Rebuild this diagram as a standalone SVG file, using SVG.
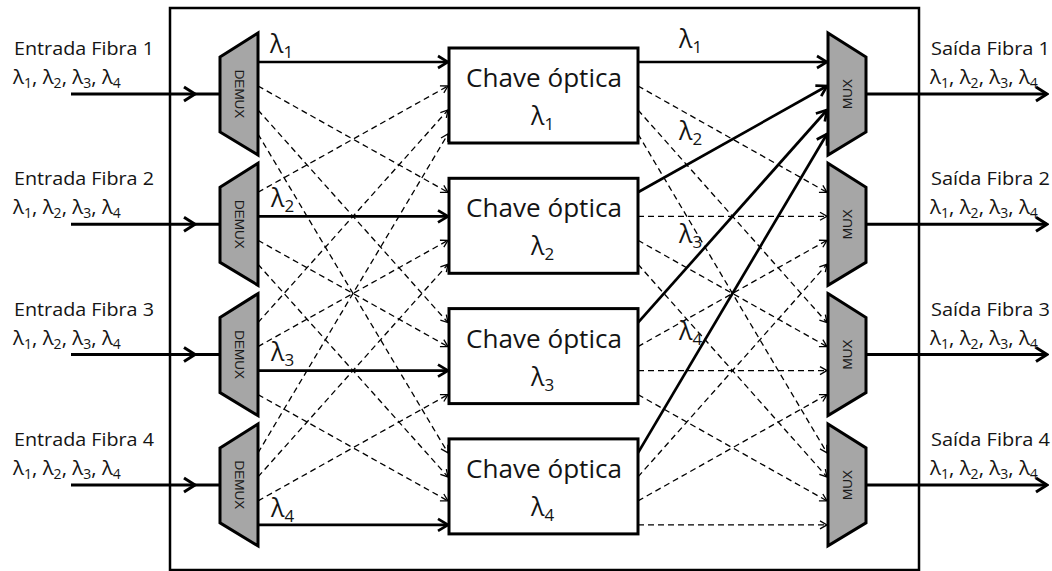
<svg xmlns="http://www.w3.org/2000/svg" width="1052" height="571" viewBox="0 0 1052 571">
<style>
  .txt { font-family: "Open Sans", "Liberation Sans", sans-serif; fill: #141414; }
  .lbl { font-size: 18px; }
  .row { font-size: 20.5px; }
  .row .sub { font-size: 14px; }
  .big { font-size: 25px; }
  .big .sub { font-size: 17px; }
  .lam { font-size: 25px; }
  .lam .sub { font-size: 17px; }
  .dev { fill: #a6a6a6; stroke: #000; stroke-width: 3; stroke-linejoin: miter; }
  .devtxt { font-family: "Liberation Sans", sans-serif; font-size: 13.5px; fill: #1a1a1a; }
  .sw { fill: #fff; stroke: #000; stroke-width: 3; }
  .s { stroke: #000; stroke-width: 2.7; fill: none; marker-end: url(#ah); }
  .d { stroke: #000; stroke-width: 1.3; fill: none; stroke-dasharray: 6 4; marker-end: url(#ahs); }
  .fib { stroke: #000; stroke-width: 3; fill: none; }
</style>
<defs>
  <marker id="ah" viewBox="-13 -8 15 16" refX="0" refY="0" markerWidth="15" markerHeight="16" markerUnits="userSpaceOnUse" orient="auto">
    <path d="M-10,-6 L0,0 L-10,6" fill="none" stroke="#000" stroke-width="2.7"/>
  </marker>
  <marker id="ahs" viewBox="-10 -6 12 12" refX="0" refY="0" markerWidth="12" markerHeight="12" markerUnits="userSpaceOnUse" orient="auto">
    <path d="M-7,-4 L0,0 L-7,4" fill="none" stroke="#000" stroke-width="1.3"/>
  </marker>
  <marker id="ahf" viewBox="-14 -9 16 18" refX="0" refY="0" markerWidth="16" markerHeight="18" markerUnits="userSpaceOnUse" orient="auto">
    <path d="M-11,-7 L0,0 L-11,7" fill="none" stroke="#000" stroke-width="3"/>
  </marker>
</defs>

<g id="frame">
  <rect x="170" y="8" width="749" height="562" fill="none" stroke="#000" stroke-width="2.5"/>
</g>

<g id="connectors">
  <!-- input fibres -->
  <path class="fib" d="M71,94 H195 H220" marker-mid="url(#ahf)"/>
  <path class="fib" d="M71,224.3 H195 H220" marker-mid="url(#ahf)"/>
  <path class="fib" d="M71,354.6 H195 H220" marker-mid="url(#ahf)"/>
  <path class="fib" d="M71,484.9 H195 H220" marker-mid="url(#ahf)"/>
  <!-- output fibres -->
  <path class="fib" d="M866,94 H1047" marker-end="url(#ahf)"/>
  <path class="fib" d="M866,224.3 H1047" marker-end="url(#ahf)"/>
  <path class="fib" d="M866,354.6 H1047" marker-end="url(#ahf)"/>
  <path class="fib" d="M866,484.9 H1047" marker-end="url(#ahf)"/>

  <!-- demux -> switches -->
  <line class="s" x1="258" y1="62" x2="448" y2="62"/>
  <line class="d" x1="258" y1="86" x2="448" y2="192.3"/>
  <line class="d" x1="258" y1="110" x2="448" y2="322.6"/>
  <line class="d" x1="258" y1="134" x2="448" y2="452.9"/>

  <line class="d" x1="258" y1="192.3" x2="448" y2="86"/>
  <line class="s" x1="258" y1="216.3" x2="448" y2="216.3"/>
  <line class="d" x1="258" y1="240.3" x2="448" y2="346.6"/>
  <line class="d" x1="258" y1="264.3" x2="448" y2="476.9"/>

  <line class="d" x1="258" y1="322.6" x2="448" y2="110"/>
  <line class="d" x1="258" y1="346.6" x2="448" y2="240.3"/>
  <line class="s" x1="258" y1="370.6" x2="448" y2="370.6"/>
  <line class="d" x1="258" y1="394.6" x2="448" y2="500.9"/>

  <line class="d" x1="258" y1="452.9" x2="448" y2="134"/>
  <line class="d" x1="258" y1="476.9" x2="448" y2="264.3"/>
  <line class="d" x1="258" y1="500.9" x2="448" y2="394.6"/>
  <line class="s" x1="258" y1="524.9" x2="448" y2="524.9"/>

  <!-- switches -> mux -->
  <line class="s" x1="638" y1="62" x2="827" y2="62"/>
  <line class="d" x1="638" y1="86" x2="827" y2="192.3"/>
  <line class="d" x1="638" y1="110" x2="827" y2="322.6"/>
  <line class="d" x1="638" y1="134" x2="827" y2="452.9"/>

  <line class="s" x1="638" y1="192.3" x2="827" y2="86"/>
  <line class="d" x1="638" y1="216.3" x2="827" y2="216.3"/>
  <line class="d" x1="638" y1="240.3" x2="827" y2="346.6"/>
  <line class="d" x1="638" y1="264.3" x2="827" y2="476.9"/>

  <line class="s" x1="638" y1="322.6" x2="827" y2="110"/>
  <line class="d" x1="638" y1="346.6" x2="827" y2="240.3"/>
  <line class="d" x1="638" y1="370.6" x2="827" y2="370.6"/>
  <line class="d" x1="638" y1="394.6" x2="827" y2="500.9"/>

  <line class="s" x1="638" y1="452.9" x2="827" y2="134"/>
  <line class="d" x1="638" y1="476.9" x2="827" y2="264.3"/>
  <line class="d" x1="638" y1="500.9" x2="827" y2="394.6"/>
  <line class="d" x1="638" y1="524.9" x2="827" y2="524.9"/>
</g>

<g id="connector-labels" class="txt lam">
  <text x="270" y="53">λ<tspan class="sub" dy="5">1</tspan></text>
  <text x="271" y="207">λ<tspan class="sub" dy="5">2</tspan></text>
  <text x="271" y="361">λ<tspan class="sub" dy="5">3</tspan></text>
  <text x="271" y="517">λ<tspan class="sub" dy="5">4</tspan></text>
  <text x="679" y="48">λ<tspan class="sub" dy="5">1</tspan></text>
  <text x="679" y="140">λ<tspan class="sub" dy="5">2</tspan></text>
  <text x="679" y="243">λ<tspan class="sub" dy="5">3</tspan></text>
  <text x="679" y="340">λ<tspan class="sub" dy="5">4</tspan></text>
</g>

<g id="input-1" class="txt">
  <text class="lbl" x="14" y="55" textLength="140" lengthAdjust="spacingAndGlyphs">Entrada Fibra 1</text>
  <text class="row" x="13" y="84">λ<tspan class="sub" dy="4">1</tspan><tspan dy="-4">, λ</tspan><tspan class="sub" dy="4">2</tspan><tspan dy="-4">, λ</tspan><tspan class="sub" dy="4">3</tspan><tspan dy="-4">, λ</tspan><tspan class="sub" dy="4">4</tspan></text>
</g>
<g id="input-2" class="txt">
  <text class="lbl" x="14" y="185.3" textLength="140" lengthAdjust="spacingAndGlyphs">Entrada Fibra 2</text>
  <text class="row" x="13" y="214.3">λ<tspan class="sub" dy="4">1</tspan><tspan dy="-4">, λ</tspan><tspan class="sub" dy="4">2</tspan><tspan dy="-4">, λ</tspan><tspan class="sub" dy="4">3</tspan><tspan dy="-4">, λ</tspan><tspan class="sub" dy="4">4</tspan></text>
</g>
<g id="input-3" class="txt">
  <text class="lbl" x="14" y="315.6" textLength="140" lengthAdjust="spacingAndGlyphs">Entrada Fibra 3</text>
  <text class="row" x="13" y="344.6">λ<tspan class="sub" dy="4">1</tspan><tspan dy="-4">, λ</tspan><tspan class="sub" dy="4">2</tspan><tspan dy="-4">, λ</tspan><tspan class="sub" dy="4">3</tspan><tspan dy="-4">, λ</tspan><tspan class="sub" dy="4">4</tspan></text>
</g>
<g id="input-4" class="txt">
  <text class="lbl" x="14" y="445.9" textLength="140" lengthAdjust="spacingAndGlyphs">Entrada Fibra 4</text>
  <text class="row" x="13" y="474.9">λ<tspan class="sub" dy="4">1</tspan><tspan dy="-4">, λ</tspan><tspan class="sub" dy="4">2</tspan><tspan dy="-4">, λ</tspan><tspan class="sub" dy="4">3</tspan><tspan dy="-4">, λ</tspan><tspan class="sub" dy="4">4</tspan></text>
</g>

<g id="output-1" class="txt">
  <text class="lbl" x="931" y="55" textLength="119" lengthAdjust="spacingAndGlyphs">Saída Fibra 1</text>
  <text class="row" x="930" y="84">λ<tspan class="sub" dy="4">1</tspan><tspan dy="-4">, λ</tspan><tspan class="sub" dy="4">2</tspan><tspan dy="-4">, λ</tspan><tspan class="sub" dy="4">3</tspan><tspan dy="-4">, λ</tspan><tspan class="sub" dy="4">4</tspan></text>
</g>
<g id="output-2" class="txt">
  <text class="lbl" x="931" y="185.3" textLength="119" lengthAdjust="spacingAndGlyphs">Saída Fibra 2</text>
  <text class="row" x="930" y="214.3">λ<tspan class="sub" dy="4">1</tspan><tspan dy="-4">, λ</tspan><tspan class="sub" dy="4">2</tspan><tspan dy="-4">, λ</tspan><tspan class="sub" dy="4">3</tspan><tspan dy="-4">, λ</tspan><tspan class="sub" dy="4">4</tspan></text>
</g>
<g id="output-3" class="txt">
  <text class="lbl" x="931" y="315.6" textLength="119" lengthAdjust="spacingAndGlyphs">Saída Fibra 3</text>
  <text class="row" x="930" y="344.6">λ<tspan class="sub" dy="4">1</tspan><tspan dy="-4">, λ</tspan><tspan class="sub" dy="4">2</tspan><tspan dy="-4">, λ</tspan><tspan class="sub" dy="4">3</tspan><tspan dy="-4">, λ</tspan><tspan class="sub" dy="4">4</tspan></text>
</g>
<g id="output-4" class="txt">
  <text class="lbl" x="931" y="445.9" textLength="119" lengthAdjust="spacingAndGlyphs">Saída Fibra 4</text>
  <text class="row" x="930" y="474.9">λ<tspan class="sub" dy="4">1</tspan><tspan dy="-4">, λ</tspan><tspan class="sub" dy="4">2</tspan><tspan dy="-4">, λ</tspan><tspan class="sub" dy="4">3</tspan><tspan dy="-4">, λ</tspan><tspan class="sub" dy="4">4</tspan></text>
</g>

<g id="demux-1">
  <polygon class="dev" points="220,57 258,33 258,155 220,132"/>
  <text class="devtxt" transform="translate(234.5,94) rotate(90)" text-anchor="middle">DEMUX</text>
</g>
<g id="demux-2">
  <polygon class="dev" points="220,187.3 258,163.3 258,285.3 220,262.3"/>
  <text class="devtxt" transform="translate(234.5,224.3) rotate(90)" text-anchor="middle">DEMUX</text>
</g>
<g id="demux-3">
  <polygon class="dev" points="220,317.6 258,293.6 258,415.6 220,392.6"/>
  <text class="devtxt" transform="translate(234.5,354.6) rotate(90)" text-anchor="middle">DEMUX</text>
</g>
<g id="demux-4">
  <polygon class="dev" points="220,447.9 258,423.9 258,545.9 220,522.9"/>
  <text class="devtxt" transform="translate(234.5,484.9) rotate(90)" text-anchor="middle">DEMUX</text>
</g>

<g id="switch-1">
  <rect class="sw" x="449" y="48" width="189" height="95"/>
  <text class="txt big" x="544" y="87" text-anchor="middle" textLength="156" lengthAdjust="spacingAndGlyphs">Chave óptica</text>
  <text class="txt big" x="531" y="125">λ<tspan class="sub" dy="5">1</tspan></text>
</g>
<g id="switch-2">
  <rect class="sw" x="449" y="178.3" width="189" height="95"/>
  <text class="txt big" x="544" y="217.3" text-anchor="middle" textLength="156" lengthAdjust="spacingAndGlyphs">Chave óptica</text>
  <text class="txt big" x="531" y="255.3">λ<tspan class="sub" dy="5">2</tspan></text>
</g>
<g id="switch-3">
  <rect class="sw" x="449" y="308.6" width="189" height="95"/>
  <text class="txt big" x="544" y="347.6" text-anchor="middle" textLength="156" lengthAdjust="spacingAndGlyphs">Chave óptica</text>
  <text class="txt big" x="531" y="385.6">λ<tspan class="sub" dy="5">3</tspan></text>
</g>
<g id="switch-4">
  <rect class="sw" x="449" y="438.9" width="189" height="95"/>
  <text class="txt big" x="544" y="477.9" text-anchor="middle" textLength="156" lengthAdjust="spacingAndGlyphs">Chave óptica</text>
  <text class="txt big" x="531" y="515.9">λ<tspan class="sub" dy="5">4</tspan></text>
</g>

<g id="mux-1">
  <polygon class="dev" points="828,33 866,57 866,132 828,155"/>
  <text class="devtxt" transform="translate(851.5,94) rotate(-90)" text-anchor="middle">MUX</text>
</g>
<g id="mux-2">
  <polygon class="dev" points="828,163.3 866,187.3 866,262.3 828,285.3"/>
  <text class="devtxt" transform="translate(851.5,224.3) rotate(-90)" text-anchor="middle">MUX</text>
</g>
<g id="mux-3">
  <polygon class="dev" points="828,293.6 866,317.6 866,392.6 828,415.6"/>
  <text class="devtxt" transform="translate(851.5,354.6) rotate(-90)" text-anchor="middle">MUX</text>
</g>
<g id="mux-4">
  <polygon class="dev" points="828,423.9 866,447.9 866,522.9 828,545.9"/>
  <text class="devtxt" transform="translate(851.5,484.9) rotate(-90)" text-anchor="middle">MUX</text>
</g>
</svg>
